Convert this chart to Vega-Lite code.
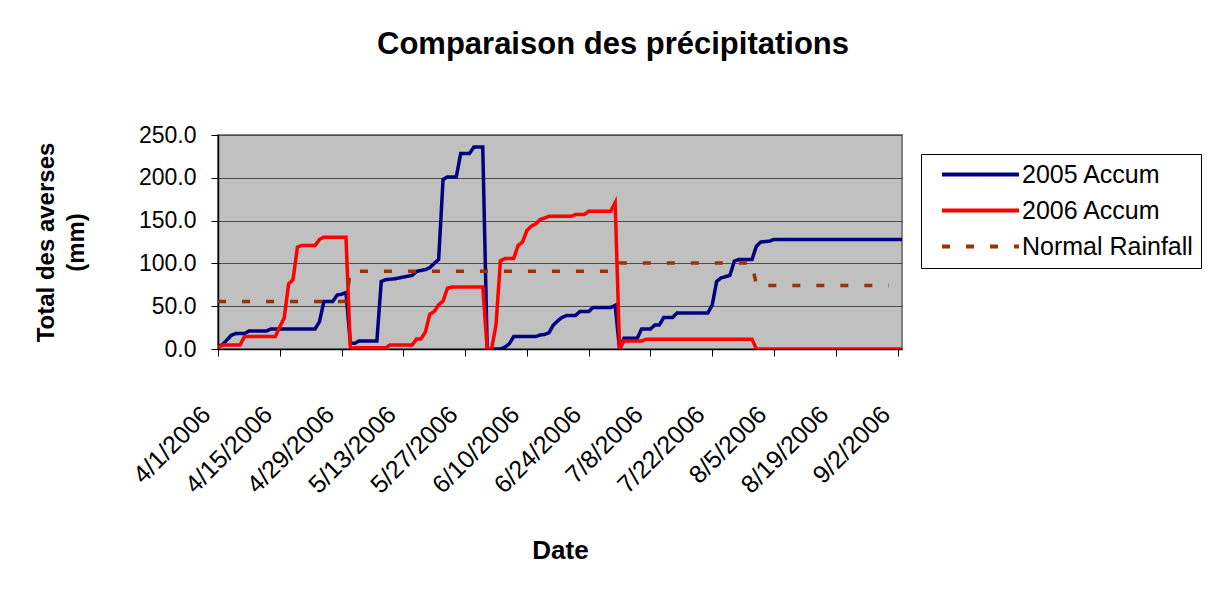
{
  "$schema": "https://vega.github.io/schema/vega-lite/v6.json",
  "autosize": {"type": "none"},
  "padding": {"left": 218, "top": 135, "right": 316, "bottom": 247},
  "width": 684,
  "height": 214,
  "background": "white",
  "config": {
    "font": "Liberation Sans",
    "view": {"fill": "#C0C0C0", "stroke": "#808080", "strokeWidth": 2}
  },
  "title": {
    "text": "Comparaison des précipitations",
    "fontSize": 31,
    "fontWeight": "bold",
    "font": "Liberation Sans",
    "color": "black",
    "anchor": "middle",
    "frame": "group",
    "dx": 53,
    "baseline": "alphabetic",
    "offset": 39
  },
  "data": {
    "values": [
      {"date": "2006-04-01", "series": "2005 Accum", "value": 3},
      {"date": "2006-04-02", "series": "2005 Accum", "value": 5},
      {"date": "2006-04-04", "series": "2005 Accum", "value": 16},
      {"date": "2006-04-05", "series": "2005 Accum", "value": 18},
      {"date": "2006-04-07", "series": "2005 Accum", "value": 18},
      {"date": "2006-04-08", "series": "2005 Accum", "value": 21},
      {"date": "2006-04-12", "series": "2005 Accum", "value": 21},
      {"date": "2006-04-13", "series": "2005 Accum", "value": 23.5},
      {"date": "2006-04-23", "series": "2005 Accum", "value": 23.5},
      {"date": "2006-04-24", "series": "2005 Accum", "value": 32},
      {"date": "2006-04-25", "series": "2005 Accum", "value": 55.5},
      {"date": "2006-04-27", "series": "2005 Accum", "value": 55.5},
      {"date": "2006-04-28", "series": "2005 Accum", "value": 63},
      {"date": "2006-04-29", "series": "2005 Accum", "value": 64},
      {"date": "2006-04-30", "series": "2005 Accum", "value": 66},
      {"date": "2006-05-01", "series": "2005 Accum", "value": 6.7},
      {"date": "2006-05-02", "series": "2005 Accum", "value": 6.7},
      {"date": "2006-05-03", "series": "2005 Accum", "value": 9.4},
      {"date": "2006-05-07", "series": "2005 Accum", "value": 9.4},
      {"date": "2006-05-08", "series": "2005 Accum", "value": 79},
      {"date": "2006-05-09", "series": "2005 Accum", "value": 81},
      {"date": "2006-05-11", "series": "2005 Accum", "value": 82},
      {"date": "2006-05-12", "series": "2005 Accum", "value": 83},
      {"date": "2006-05-14", "series": "2005 Accum", "value": 85},
      {"date": "2006-05-15", "series": "2005 Accum", "value": 86},
      {"date": "2006-05-16", "series": "2005 Accum", "value": 90.7},
      {"date": "2006-05-18", "series": "2005 Accum", "value": 92.7},
      {"date": "2006-05-19", "series": "2005 Accum", "value": 95},
      {"date": "2006-05-20", "series": "2005 Accum", "value": 100},
      {"date": "2006-05-21", "series": "2005 Accum", "value": 104.5},
      {"date": "2006-05-22", "series": "2005 Accum", "value": 198},
      {"date": "2006-05-23", "series": "2005 Accum", "value": 201},
      {"date": "2006-05-25", "series": "2005 Accum", "value": 201},
      {"date": "2006-05-26", "series": "2005 Accum", "value": 228.5},
      {"date": "2006-05-28", "series": "2005 Accum", "value": 228.5},
      {"date": "2006-05-29", "series": "2005 Accum", "value": 236},
      {"date": "2006-05-31", "series": "2005 Accum", "value": 236},
      {"date": "2006-06-01", "series": "2005 Accum", "value": 0},
      {"date": "2006-06-04", "series": "2005 Accum", "value": 0},
      {"date": "2006-06-05", "series": "2005 Accum", "value": 2},
      {"date": "2006-06-06", "series": "2005 Accum", "value": 6},
      {"date": "2006-06-07", "series": "2005 Accum", "value": 14.5},
      {"date": "2006-06-12", "series": "2005 Accum", "value": 14.5},
      {"date": "2006-06-13", "series": "2005 Accum", "value": 16.4},
      {"date": "2006-06-14", "series": "2005 Accum", "value": 17},
      {"date": "2006-06-15", "series": "2005 Accum", "value": 19},
      {"date": "2006-06-16", "series": "2005 Accum", "value": 28},
      {"date": "2006-06-17", "series": "2005 Accum", "value": 33},
      {"date": "2006-06-18", "series": "2005 Accum", "value": 37},
      {"date": "2006-06-19", "series": "2005 Accum", "value": 39},
      {"date": "2006-06-21", "series": "2005 Accum", "value": 39},
      {"date": "2006-06-22", "series": "2005 Accum", "value": 43.8},
      {"date": "2006-06-24", "series": "2005 Accum", "value": 43.8},
      {"date": "2006-06-25", "series": "2005 Accum", "value": 48.5},
      {"date": "2006-06-29", "series": "2005 Accum", "value": 48.5},
      {"date": "2006-06-30", "series": "2005 Accum", "value": 51},
      {"date": "2006-07-01", "series": "2005 Accum", "value": 0},
      {"date": "2006-07-02", "series": "2005 Accum", "value": 12.5},
      {"date": "2006-07-05", "series": "2005 Accum", "value": 12.5},
      {"date": "2006-07-06", "series": "2005 Accum", "value": 23.5},
      {"date": "2006-07-08", "series": "2005 Accum", "value": 23.5},
      {"date": "2006-07-09", "series": "2005 Accum", "value": 28},
      {"date": "2006-07-10", "series": "2005 Accum", "value": 28},
      {"date": "2006-07-11", "series": "2005 Accum", "value": 36.7},
      {"date": "2006-07-13", "series": "2005 Accum", "value": 36.7},
      {"date": "2006-07-14", "series": "2005 Accum", "value": 42},
      {"date": "2006-07-21", "series": "2005 Accum", "value": 42},
      {"date": "2006-07-22", "series": "2005 Accum", "value": 51.6},
      {"date": "2006-07-23", "series": "2005 Accum", "value": 79},
      {"date": "2006-07-24", "series": "2005 Accum", "value": 83},
      {"date": "2006-07-26", "series": "2005 Accum", "value": 86},
      {"date": "2006-07-27", "series": "2005 Accum", "value": 102.5},
      {"date": "2006-07-28", "series": "2005 Accum", "value": 104.5},
      {"date": "2006-07-31", "series": "2005 Accum", "value": 104.5},
      {"date": "2006-08-01", "series": "2005 Accum", "value": 120},
      {"date": "2006-08-02", "series": "2005 Accum", "value": 125},
      {"date": "2006-08-04", "series": "2005 Accum", "value": 126},
      {"date": "2006-08-05", "series": "2005 Accum", "value": 128},
      {"date": "2006-09-03", "series": "2005 Accum", "value": 128},

      {"date": "2006-04-01", "series": "2006 Accum", "value": 1.5},
      {"date": "2006-04-02", "series": "2006 Accum", "value": 4.7},
      {"date": "2006-04-06", "series": "2006 Accum", "value": 4.7},
      {"date": "2006-04-07", "series": "2006 Accum", "value": 14.5},
      {"date": "2006-04-14", "series": "2006 Accum", "value": 14.5},
      {"date": "2006-04-15", "series": "2006 Accum", "value": 26},
      {"date": "2006-04-16", "series": "2006 Accum", "value": 36},
      {"date": "2006-04-17", "series": "2006 Accum", "value": 76},
      {"date": "2006-04-18", "series": "2006 Accum", "value": 81},
      {"date": "2006-04-19", "series": "2006 Accum", "value": 119},
      {"date": "2006-04-20", "series": "2006 Accum", "value": 121},
      {"date": "2006-04-23", "series": "2006 Accum", "value": 121},
      {"date": "2006-04-24", "series": "2006 Accum", "value": 128},
      {"date": "2006-04-25", "series": "2006 Accum", "value": 130.6},
      {"date": "2006-04-30", "series": "2006 Accum", "value": 130.6},
      {"date": "2006-05-01", "series": "2006 Accum", "value": 0},
      {"date": "2006-05-02", "series": "2006 Accum", "value": 1.5},
      {"date": "2006-05-09", "series": "2006 Accum", "value": 1.5},
      {"date": "2006-05-10", "series": "2006 Accum", "value": 4.7},
      {"date": "2006-05-15", "series": "2006 Accum", "value": 4.7},
      {"date": "2006-05-16", "series": "2006 Accum", "value": 11.7},
      {"date": "2006-05-17", "series": "2006 Accum", "value": 11.7},
      {"date": "2006-05-18", "series": "2006 Accum", "value": 20},
      {"date": "2006-05-19", "series": "2006 Accum", "value": 40.7},
      {"date": "2006-05-20", "series": "2006 Accum", "value": 43.8},
      {"date": "2006-05-21", "series": "2006 Accum", "value": 51.6},
      {"date": "2006-05-22", "series": "2006 Accum", "value": 56},
      {"date": "2006-05-23", "series": "2006 Accum", "value": 71},
      {"date": "2006-05-24", "series": "2006 Accum", "value": 72.4},
      {"date": "2006-05-31", "series": "2006 Accum", "value": 72.4},
      {"date": "2006-06-01", "series": "2006 Accum", "value": 0},
      {"date": "2006-06-02", "series": "2006 Accum", "value": 0},
      {"date": "2006-06-03", "series": "2006 Accum", "value": 28},
      {"date": "2006-06-04", "series": "2006 Accum", "value": 103},
      {"date": "2006-06-05", "series": "2006 Accum", "value": 105.6},
      {"date": "2006-06-07", "series": "2006 Accum", "value": 105.6},
      {"date": "2006-06-08", "series": "2006 Accum", "value": 121},
      {"date": "2006-06-09", "series": "2006 Accum", "value": 125},
      {"date": "2006-06-10", "series": "2006 Accum", "value": 138.5},
      {"date": "2006-06-11", "series": "2006 Accum", "value": 143.5},
      {"date": "2006-06-12", "series": "2006 Accum", "value": 146},
      {"date": "2006-06-13", "series": "2006 Accum", "value": 151.4},
      {"date": "2006-06-14", "series": "2006 Accum", "value": 153},
      {"date": "2006-06-15", "series": "2006 Accum", "value": 155},
      {"date": "2006-06-20", "series": "2006 Accum", "value": 155},
      {"date": "2006-06-21", "series": "2006 Accum", "value": 157},
      {"date": "2006-06-23", "series": "2006 Accum", "value": 157},
      {"date": "2006-06-24", "series": "2006 Accum", "value": 161},
      {"date": "2006-06-29", "series": "2006 Accum", "value": 161},
      {"date": "2006-06-30", "series": "2006 Accum", "value": 171},
      {"date": "2006-07-01", "series": "2006 Accum", "value": 0},
      {"date": "2006-07-02", "series": "2006 Accum", "value": 9.4},
      {"date": "2006-07-06", "series": "2006 Accum", "value": 9.4},
      {"date": "2006-07-07", "series": "2006 Accum", "value": 11.5},
      {"date": "2006-07-31", "series": "2006 Accum", "value": 11.5},
      {"date": "2006-08-01", "series": "2006 Accum", "value": 0},
      {"date": "2006-09-03", "series": "2006 Accum", "value": 0},

      {"date": "2006-04-01", "series": "Normal Rainfall", "value": 55.5},
      {"date": "2006-04-30", "series": "Normal Rainfall", "value": 55.5},
      {"date": "2006-05-01", "series": "Normal Rainfall", "value": 90.7},
      {"date": "2006-06-30", "series": "Normal Rainfall", "value": 90.7},
      {"date": "2006-07-01", "series": "Normal Rainfall", "value": 100.6},
      {"date": "2006-07-31", "series": "Normal Rainfall", "value": 100.6},
      {"date": "2006-08-01", "series": "Normal Rainfall", "value": 74.3},
      {"date": "2006-08-31", "series": "Normal Rainfall", "value": 74.3}
    ]
  },
  "mark": {"type": "line", "strokeWidth": 3.5, "strokeCap": "butt", "clip": true},
  "encoding": {
    "x": {
      "field": "date",
      "type": "temporal",
      "scale": {
        "type": "utc",
        "domain": [
          {"year": 2006, "month": 4, "date": 1, "utc": true},
          {"year": 2006, "month": 9, "date": 3, "utc": true}
        ],
        "nice": false
      },
      "axis": {
        "title": "Date",
        "titleFontSize": 26,
        "titleFontWeight": "bold",
        "titleColor": "black",
        "titlePadding": 40,
        "format": "%-m/%-d/%Y",
        "values": [
          {"year": 2006, "month": 4, "date": 1, "utc": true},
          {"year": 2006, "month": 4, "date": 15, "utc": true},
          {"year": 2006, "month": 4, "date": 29, "utc": true},
          {"year": 2006, "month": 5, "date": 13, "utc": true},
          {"year": 2006, "month": 5, "date": 27, "utc": true},
          {"year": 2006, "month": 6, "date": 10, "utc": true},
          {"year": 2006, "month": 6, "date": 24, "utc": true},
          {"year": 2006, "month": 7, "date": 8, "utc": true},
          {"year": 2006, "month": 7, "date": 22, "utc": true},
          {"year": 2006, "month": 8, "date": 5, "utc": true},
          {"year": 2006, "month": 8, "date": 19, "utc": true},
          {"year": 2006, "month": 9, "date": 2, "utc": true}
        ],
        "labelAngle": -45,
        "labelAlign": "right",
        "labelBaseline": "middle",
        "labelFontSize": 25,
        "labelColor": "black",
        "labelPadding": 54,
        "labelOffset": -12,
        "labelOverlap": false,
        "labelFlush": false,
        "labelBound": false,
        "grid": false,
        "domainColor": "black",
        "domainWidth": 1.5,
        "tickColor": "black",
        "tickSize": 7,
        "tickWidth": 1
      }
    },
    "y": {
      "field": "value",
      "type": "quantitative",
      "scale": {"domain": [0, 250], "nice": false},
      "axis": {
        "title": ["Total des averses", "(mm)"],
        "titleFontSize": 24,
        "titleFontWeight": "bold",
        "titleColor": "black",
        "titleLineHeight": 30,
        "titlePadding": 50,
        "values": [0, 50, 100, 150, 200, 250],
        "format": ".1f",
        "labelFontSize": 23,
        "labelColor": "black",
        "labelPadding": 15,
        "grid": true,
        "gridColor": "#4d4d4d",
        "gridWidth": 1,
        "gridOpacity": 1,
        "domainColor": "black",
        "domainWidth": 1.5,
        "tickColor": "black",
        "tickSize": 7,
        "tickWidth": 1
      }
    },
    "color": {
      "field": "series",
      "type": "nominal",
      "scale": {
        "domain": ["2005 Accum", "2006 Accum", "Normal Rainfall"],
        "range": ["#000080", "#FF0000", "#993300"]
      },
      "legend": {
        "title": null,
        "orient": "none",
        "legendX": 703,
        "legendY": 19,
        "labelFontSize": 25,
        "labelColor": "black",
        "labelLimit": 400,
        "symbolType": "M-4,0H4",
        "symbolSize": 370,
        "symbolStrokeWidth": 4,
        "symbolOffset": 39,
        "labelOffset": 29,
        "rowPadding": 10,
        "padding": 8,
        "strokeColor": "black",
        "fillColor": "white"
      }
    },
    "strokeDash": {
      "field": "series",
      "type": "nominal",
      "scale": {
        "domain": ["2005 Accum", "2006 Accum", "Normal Rainfall"],
        "range": [[1, 0], [1, 0], [8, 16]]
      }
    }
  }
}
